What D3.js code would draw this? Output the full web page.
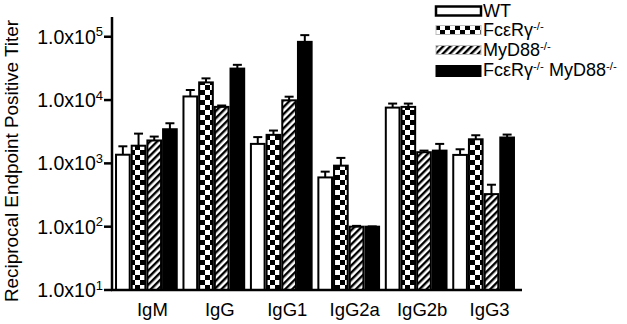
<!DOCTYPE html>
<html><head><meta charset="utf-8">
<script src="https://cdn.jsdelivr.net/npm/d3@7"></script>
<style>html,body{margin:0;padding:0;background:#fff;}svg{display:block;font-family:"Liberation Sans",Arial,sans-serif;}</style>
</head><body>
<svg id="c" width="627" height="324"></svg>
<script>
const categories = ["IgM","IgG","IgG1","IgG2a","IgG2b","IgG3"];
const seriesKeys = ["wt","fc","myd","dko"];
const seriesNames = ["WT","FcεRγ","MyD88","FcεRγ"];
const wtMean  = [1370, 11400, 2030, 600, 7600, 1360];
const wtSem   = [490, 3000, 570, 140, 1200, 310];
const fcMean  = [1900, 19000, 2820, 920, 7800, 2400];
const fcSem   = [1050, 3000, 480, 300, 1000, 380];
const mydMean = [2300, 7800, 9900, 100, 1500, 327];
const mydSem  = [350, 400, 1400, 3, 90, 133];
const dkoMean = [3460, 31400, 83000, 100, 1590, 2560];
const dkoSem  = [840, 4600, 23000, 1, 440, 290];
const yTicks = [10, 100, 1000, 10000, 100000];
const yTickExp = ["1","2","3","4","5"];

const means = {wt: wtMean, fc: fcMean, myd: mydMean, dko: dkoMean};
const sems = {wt: wtSem, fc: fcSem, myd: mydSem, dko: dkoSem};

const svg = d3.select("#c");
const defs = svg.append("defs");
const ck = defs.append("pattern").attr("id","checker").attr("patternUnits","userSpaceOnUse")
  .attr("width",10).attr("height",10);
ck.append("rect").attr("width",10).attr("height",10).attr("fill","#fff");
ck.append("rect").attr("width",5).attr("height",5).attr("fill","#000");
ck.append("rect").attr("x",5).attr("y",5).attr("width",5).attr("height",5).attr("fill","#000");
const ht = defs.append("pattern").attr("id","hatch").attr("patternUnits","userSpaceOnUse")
  .attr("width",5).attr("height",5).attr("patternTransform","rotate(45)");
ht.append("rect").attr("width",5).attr("height",5).attr("fill","#fff");
ht.append("rect").attr("width",2.4).attr("height",5).attr("fill","#000");

const fills = {wt:"#fff", fc:"url(#checker)", myd:"url(#hatch)", dko:"#000"};

const y = d3.scaleLog().domain([10, 2.05e5]).range([290, 17]);
const x = d3.scaleBand().domain(categories).range([113, 517]).paddingInner(0.07).paddingOuter(0.03);
const xs = d3.scaleBand().domain(seriesKeys).range([0, x.bandwidth()]).padding(0);

const g = svg.append("g");
categories.forEach((c, i) => {
  seriesKeys.forEach(k => {
    const v = means[k][i], e = sems[k][i];
    const bx = x(c) + xs(k), bw = xs.bandwidth();
    const cx = bx + bw/2;
    g.append("line").attr("x1",cx).attr("x2",cx).attr("y1",y(v)).attr("y2",y(v+e))
      .attr("stroke","#000").attr("stroke-width",2);
    g.append("line").attr("x1",cx-4.5).attr("x2",cx+4.5).attr("y1",y(v+e)).attr("y2",y(v+e))
      .attr("stroke","#000").attr("stroke-width",2);
    g.append("rect").attr("x",bx+1).attr("y",y(v)).attr("width",bw-2).attr("height",y(10)-y(v))
      .attr("fill",fills[k]).attr("stroke","#000").attr("stroke-width",2);
  });
});

svg.append("line").attr("x1",112).attr("x2",112).attr("y1",17).attr("y2",291)
  .attr("stroke","#000").attr("stroke-width",2.5);
svg.append("line").attr("x1",111).attr("x2",522).attr("y1",290).attr("y2",290)
  .attr("stroke","#000").attr("stroke-width",2.5);
yTicks.forEach((t, i) => {
  svg.append("line").attr("x1",104).attr("x2",112).attr("y1",y(t)).attr("y2",y(t))
    .attr("stroke","#000").attr("stroke-width",2.5);
  const tx = svg.append("text").attr("x",103).attr("y",y(t)+7).attr("text-anchor","end")
    .attr("font-size",19.5).attr("fill","#000");
  tx.append("tspan").text("1.0x10");
  tx.append("tspan").attr("font-size",13).attr("dy",-7.5).text(yTickExp[i]);
});
categories.forEach(c => {
  svg.append("text").attr("x", x(c) + x.bandwidth()/2 + 6).attr("y",316)
    .attr("text-anchor","middle").attr("font-size",18.5).attr("fill","#000").text(c);
});
svg.append("text").attr("transform","translate(17.5,161) rotate(-90)").attr("text-anchor","middle")
  .attr("font-size",18.5).attr("textLength",282).attr("lengthAdjust","spacingAndGlyphs")
  .attr("fill","#000").text("Reciprocal Endpoint Positive Titer");

const lgY = [17, 36, 56, 76];
seriesKeys.forEach((k, i) => {
  const yy = lgY[i] - 10.5;
  svg.append("rect").attr("x",436).attr("y",yy).attr("width",45).attr("height",i===3?11:9)
    .attr("fill",fills[k]).attr("stroke", k==="wt"||k==="dko" ? "#000" : "#bbb")
    .attr("stroke-width", k==="wt" ? 2.5 : 1);
  const t = svg.append("text").attr("x",483).attr("y",lgY[i]).attr("font-size",18).attr("fill","#000");
  t.append("tspan").text(seriesNames[i]);
  if (k !== "wt") t.append("tspan").attr("font-size",11.5).attr("dy",-6.5).text("-/-");
  if (k === "dko") {
    t.append("tspan").attr("dy",6.5).text(" MyD88");
    t.append("tspan").attr("font-size",11.5).attr("dy",-6.5).text("-/-");
  }
});
</script>
</body></html>
